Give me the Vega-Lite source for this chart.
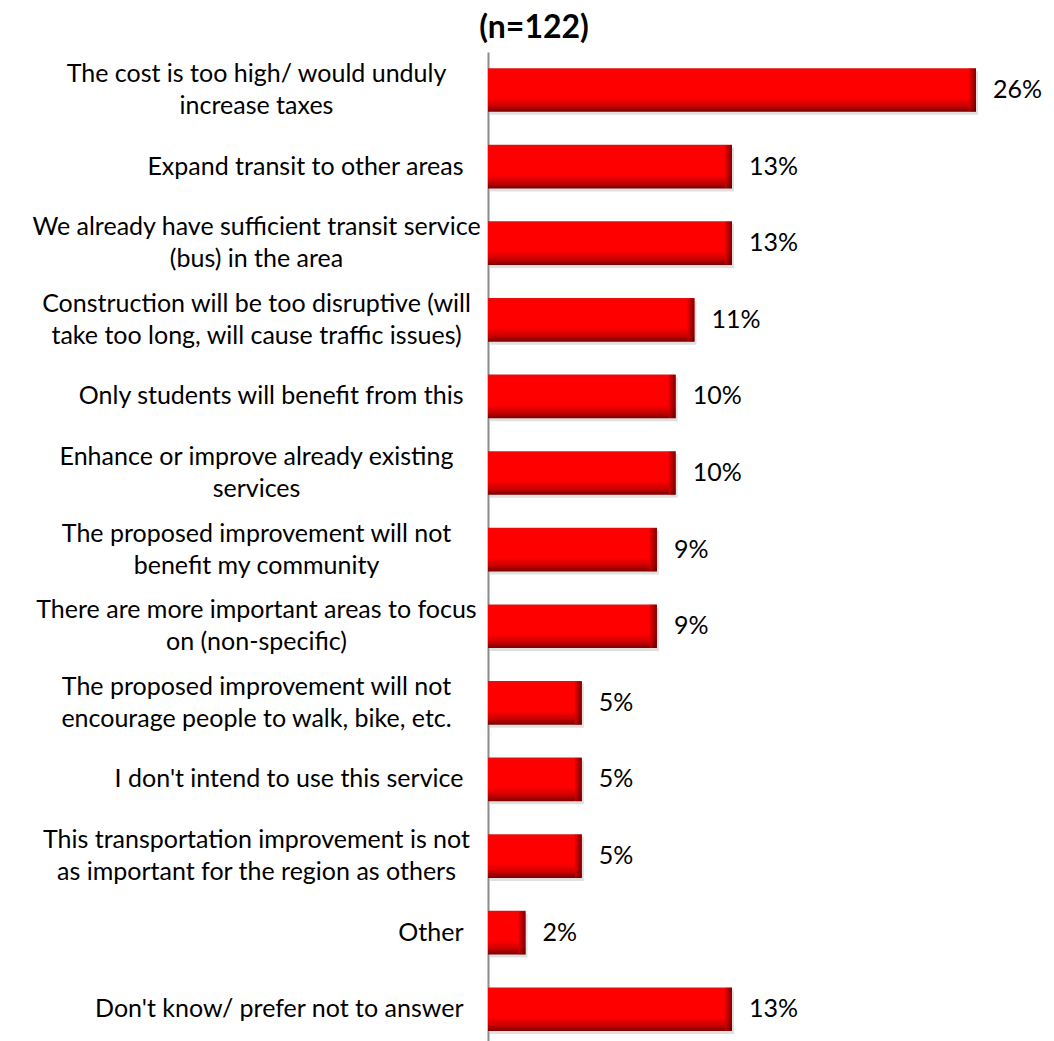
{
  "$schema": "https://vega.github.io/schema/vega-lite/v6.json",
  "width": 488,
  "height": 989,
  "autosize": {"type": "none"},
  "padding": {"left": 488, "top": 52, "right": 78, "bottom": 0},
  "background": "white",
  "config": {"view": {"stroke": null}, "font": "Lato"},
  "title": {"text": "(n=122)", "font": "Lato", "fontSize": 32, "fontWeight": "bold", "color": "#000000", "anchor": "middle", "dx": -198, "dy": 33, "offset": 15, "baseline": "alphabetic"},
  "data": {"values": [
    {"reason": "The cost is too high/ would unduly\nincrease taxes", "pct": 0.26},
    {"reason": "Expand transit to other areas", "pct": 0.13},
    {"reason": "We already have sufficient transit service\n(bus) in the area", "pct": 0.13},
    {"reason": "Construction will be too disruptive (will\ntake too long, will cause traffic issues)", "pct": 0.11},
    {"reason": "Only students will benefit from this", "pct": 0.10},
    {"reason": "Enhance or improve already existing\nservices", "pct": 0.10},
    {"reason": "The proposed improvement will not\nbenefit my community", "pct": 0.09},
    {"reason": "There are more important areas to focus\non (non-specific)", "pct": 0.09},
    {"reason": "The proposed improvement will not\nencourage people to walk, bike, etc.", "pct": 0.05},
    {"reason": "I don't intend to use this service", "pct": 0.05},
    {"reason": "This transportation improvement is not\nas important for the region as others", "pct": 0.05},
    {"reason": "Other", "pct": 0.02},
    {"reason": "Don't know/ prefer not to answer", "pct": 0.13}
  ]},
  "encoding": {
    "y": {
      "field": "reason", "type": "nominal", "sort": null,
      "scale": {"paddingInner": 0.43, "paddingOuter": 0.17, "align": 0.62},
      "axis": {
        "title": null, "grid": false, "ticks": false, "tickSize": 0,
        "domainColor": "#8c8c8c", "domainWidth": 2,
        "labelFont": "Lato", "labelFontSize": 25, "labelColor": "#000000",
        "labelLimit": 1000, "labelLineHeight": 32, "labelBaseline": "middle",
        "labelExpr": "split(datum.label, '\\n')",
        "labelAlign": {"condition": {"test": "indexof(datum.value, '\\n') >= 0", "value": "center"}, "value": "right"},
        "labelPadding": {"condition": {"test": "indexof(datum.value, '\\n') >= 0", "value": 232}, "value": 25},
        "labelOffset": {"condition": {"test": "indexof(datum.value, '\\n') >= 0", "value": -16}, "value": 0}
      }
    },
    "x": {"field": "pct", "type": "quantitative", "scale": {"domain": [0, 0.26], "nice": false}, "axis": null}
  },
  "layer": [
    {"mark": {"type": "bar", "color": "#000000", "opacity": 0.12, "xOffset": 2, "yOffset": 3}},
    {"mark": {"type": "bar", "color": {"gradient": "linear", "x1": 0, "y1": 0, "x2": 0, "y2": 1, "stops": [
      {"offset": 0, "color": "#e01010"},
      {"offset": 0.07, "color": "#ff0000"},
      {"offset": 0.68, "color": "#ff0000"},
      {"offset": 0.86, "color": "#cc0000"},
      {"offset": 1, "color": "#7a0000"}
    ]}}},
    {"mark": {"type": "tick", "orient": "vertical", "thickness": 7, "size": 43, "xOffset": -3.5, "color": {"gradient": "linear", "x1": 0, "y1": 0, "x2": 1, "y2": 0, "stops": [
      {"offset": 0, "color": "#e00000"},
      {"offset": 1, "color": "#4a0000"}
    ]}}},
    {"mark": {"type": "text", "align": "left", "baseline": "middle", "dx": 17, "font": "Lato", "fontSize": 25, "color": "#000000"},
     "encoding": {"text": {"field": "pct", "type": "quantitative", "format": ".0%"}}}
  ]
}
